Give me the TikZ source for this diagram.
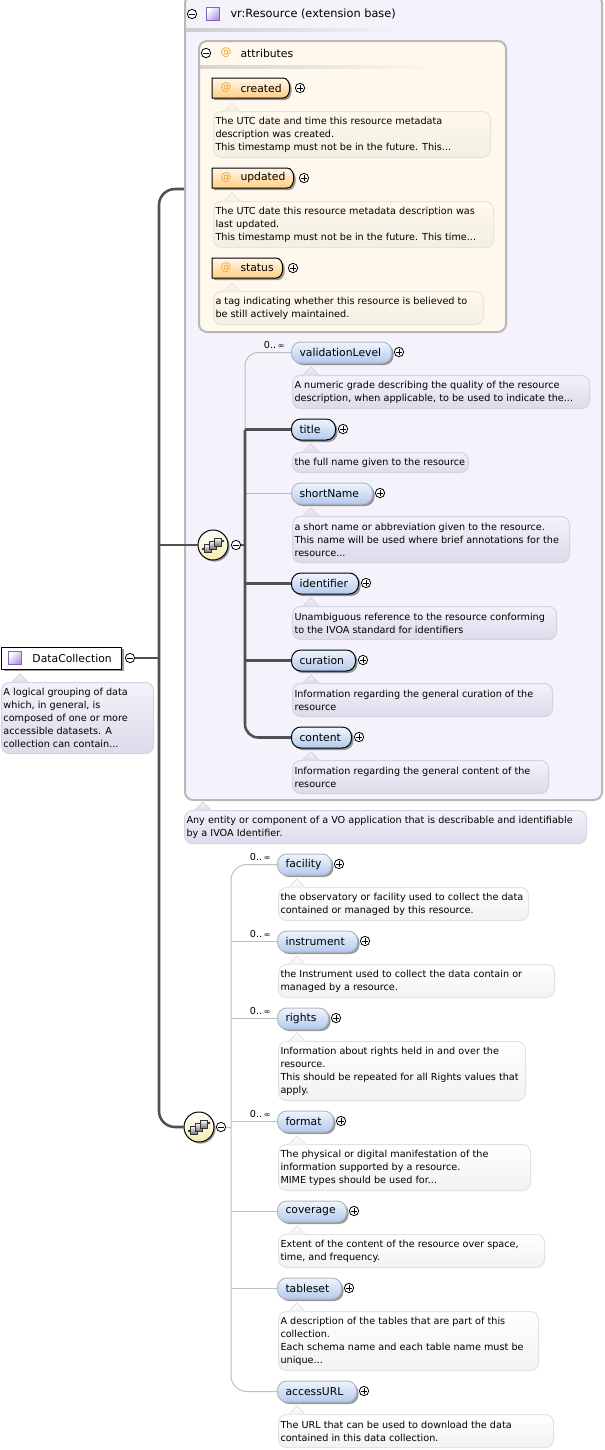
\documentclass[tikz,border=0pt]{standalone}
\usepackage{fontspec}
\setmainfont{DejaVu Sans}
\usetikzlibrary{shadows}
\definecolor{extfill}{RGB}{244,242,250}
\definecolor{attrfill}{RGB}{255,248,236}
\definecolor{framegray}{RGB}{184,184,184}
\definecolor{heavygray}{RGB}{80,80,80}
\definecolor{thingray}{RGB}{190,190,190}
\definecolor{atorange}{RGB}{240,160,30}
\definecolor{notepurpleline}{RGB}{214,210,228}
\definecolor{notepurpleend}{RGB}{222,218,234}
\definecolor{noteattrline}{RGB}{232,228,216}
\definecolor{noteattrend}{RGB}{243,239,227}
\definecolor{notegrayline}{RGB}{226,226,226}
\definecolor{notegrayend}{RGB}{242,242,242}
\definecolor{elemtop}{RGB}{240,245,253}
\definecolor{elemend}{RGB}{178,202,238}
\definecolor{optline}{RGB}{180,184,192}
\definecolor{typeline}{RGB}{130,100,190}
\definecolor{typeend}{RGB}{175,150,220}
\definecolor{seqend}{RGB}{245,236,170}
\definecolor{attrend}{RGB}{255,205,130}
\tikzset{every picture/.style={line width=0.75pt},
	notefont/.style={font=\fontsize{7.25}{9.75}\selectfont},
	namefont/.style={font=\fontsize{8.1}{9.75}\selectfont},
	notebox/.style={rounded corners=6,anchor=north west,inner xsep=1.5pt,inner ysep=0pt,align=flush left,notefont},
	notepurple/.style={notebox,draw=notepurpleline,top color=extfill,bottom color=notepurpleend},
	noteattr/.style={notebox,draw=noteattrline,top color=attrfill,bottom color=noteattrend},
	notegray/.style={notebox,draw=notegrayline,top color=white,bottom color=notegrayend},
	elembox/.style={rounded corners=7,anchor=west,inner xsep=6pt,inner ysep=0pt,align=flush left,namefont,top color=elemtop,bottom color=elemend,
		drop shadow={shadow xshift=1.5pt,shadow yshift=-1.5pt,fill=black,opacity=.4}},
	mustelem/.style={elembox,draw=black},
	optelem/.style={elembox,draw=optline},
	expminus/.style={circle,draw=black,line width=.6pt,fill=white,minimum size=7pt,inner sep=0pt,
		path picture={\draw[line width=.5pt] ([xshift=1.4pt]path picture bounding box.west) -- ([xshift=-1.4pt]path picture bounding box.east);}},
	expplus/.style={expminus,
		path picture={\draw[line width=.5pt] ([xshift=1.6pt]path picture bounding box.west) -- ([xshift=-1.6pt]path picture bounding box.east);
			\draw[line width=.5pt] ([yshift=1.6pt]path picture bounding box.south) -- ([yshift=-1.6pt]path picture bounding box.north);}},
	typeicon/.style={rectangle,draw=typeline,top color=white,bottom color=typeend,shading angle=45,minimum size=9.5pt,inner sep=0pt,
		drop shadow={shadow xshift=.8pt,shadow yshift=-.8pt,fill=black,opacity=.3}},
	heavyline/.style={draw=heavygray,line width=1.9pt},
	thinline/.style={draw=thingray,line width=0.75pt},
	seqball/.style={circle,draw=black,minimum size=22.5pt,inner sep=0pt,top color=white,bottom color=seqend,
		drop shadow={shadow xshift=1.2pt,shadow yshift=-1.2pt,fill=black,opacity=.4}},
	seqcell/.style={draw=black!80,line width=.5pt,top color=white,bottom color=black!55,minimum width=5pt,minimum height=6pt,inner sep=0pt},
	labeltext/.style={anchor=west,inner sep=0pt,namefont},
	cardlabel/.style={anchor=east,inner sep=0pt,notefont}
}
% #1 style, #2 name, #3 left, #4 right, #5 middle, #6 text
\newcommand{\elemnode}[6][optelem]{
	\node[#1,minimum width={(#4-#3)*0.75pt},text width={(#4-#3)*0.75pt-12pt},minimum height=15.75pt] (#2) at (#3,#5+0.5) {#6};
	\node[expplus] (#2Exp) at ({#4+8},#5) {};
}
% #1 style, #2 name, #3 left, #4 top, #5 right, #6 bottom, #7 tip, #8 text
\newcommand{\notenode}[8][notepurple]{
	\node[#1,minimum width={(#5-#3)*0.75pt},text width={(#5-#3)*0.75pt-3pt},minimum height={(#6-#4)*0.75pt}] (#2) at (#3,#4) {#8};
	\path[#1,rounded corners=0,shade,draw=none] (#7-8,#4+0.5) -- (#7,#4-8) -- (#7+8,#4+0.5) -- cycle;
	\draw[#1,rounded corners=0,shade=none,fill=none] (#7-8,#4) -- (#7,#4-8) -- (#7+8,#4);
}
% #1 name, #2 left, #3 right, #4 middle, #5 text
\newcommand{\attrnode}[5]{
	\path[fill=black,opacity=.4] (#2+2,#4-8) -- ({#3-7},#4-8) .. controls (#3+2,#4-8) and (#3+2,#4+12) .. ({#3-7},#4+12) -- (#2+2,#4+12) -- cycle;
	\draw[draw=black,top color=attrfill,bottom color=attrend] (#2,#4-10) -- ({#3-9},#4-10) .. controls (#3,#4-10) and (#3,#4+10) .. ({#3-9},#4+10) -- (#2,#4+10) -- cycle;
	\node[labeltext,text=atorange] (#1At) at (#2+8,#4) {@};
	\node[labeltext] (#1) at (#2+28,#4) {#5};
	\node[expplus] (#1Exp) at ({#3+8},#4) {};
}
% #1 name, #2 x, #3 y
\newcommand{\seqnode}[3]{
	\node[seqball] (#1) at (#2,#3) {};
	\draw[black!80,line width=.7pt] (#2-10,#3+4) -- (#2+10,#3-4);
	\fill[black!80] (#2-10,#3+4) circle (1pt) (#2+10,#3-4) circle (1pt);
	\node[seqcell] (#1a) at (#2-5,#3+3) {};
	\node[seqcell] (#1b) at (#2,#3) {};
	\node[seqcell] (#1c) at (#2+5,#3-3) {};
}

\begin{document}
\begin{tikzpicture}[x=0.75pt,y=0.75pt,yscale=-1,xscale=1]
	\useasboundingbox (0,0) rectangle (604,1450);

	%extension frame
	\node[draw=framegray,line width=1.5pt,fill=extfill,rounded corners=6,anchor=north west,minimum width=312.75pt,minimum height=603.75pt,inner sep=0pt] (extFrame) at (184,-6) {};
	\node[expminus] (extExp) at (192,14) {};
	\node[typeicon] (extIcon) at (213,14) {};
	\node[labeltext,font=\fontsize{8.5}{9.75}\selectfont] (extLabel) at (230,14) {vr:Resource (extension base)};
	\path[left color=framegray!70,right color=extfill] (186,28) rectangle (400,31);

	%attributes
	\node[draw=framegray,line width=1.5pt,fill=attrfill,rounded corners=6,anchor=north west,minimum width=230.25pt,minimum height=218.25pt,inner sep=0pt] (attrFrame) at (198,40) {};
	\node[expminus] (attrExp) at (206,53) {};
	\node[labeltext,text=atorange] (attrAt) at (220,53) {@};
	\node[labeltext] (attrLabel) at (240,53) {attributes};
	\path[left color=framegray!60,right color=attrfill] (200,65) rectangle (440,68);

	\attrnode{created}{212}{292}{88}{created}
	\notenode[noteattr]{createdNote}{213}{111}{490}{157}{232}{The UTC date and time this resource metadata\\description was created.\\This timestamp must not be in the future. This...}
	\attrnode{updated}{212}{296}{178}{updated}
	\notenode[noteattr]{updatedNote}{213}{201}{493}{247}{232}{The UTC date this resource metadata description was\\last updated.\\This timestamp must not be in the future. This time...}
	\attrnode{status}{212}{285}{268}{status}
	\notenode[noteattr]{statusNote}{213}{291}{483}{324}{232}{a tag indicating whether this resource is believed to\\be still actively maintained.}

	%first sequence
	\seqnode{seqA}{213}{545}
	\node[expminus] (seqAExp) at (236,545) {};
	\coordinate (spineA) at (245,545);

	\elemnode{validationLevel}{291}{391}{352}{validationLevel}
	\notenode{validationLevelNote}{292}{375}{589}{408}{311}{A numeric grade describing the quality of the resource\\description, when applicable, to be used to indicate the...}
	\elemnode[mustelem]{title}{291}{335}{429}{title}
	\notenode{titleNote}{292}{452}{468}{472}{311}{the full name given to the resource}
	\elemnode{shortName}{291}{372}{493}{shortName}
	\notenode{shortNameNote}{292}{516}{569}{562}{311}{a short name or abbreviation given to the resource.\\This name will be used where brief annotations for the\\resource...}
	\elemnode[mustelem]{identifier}{291}{358}{583}{identifier}
	\notenode{identifierNote}{292}{606}{556}{639}{311}{Unambiguous reference to the resource conforming\\to the IVOA standard for identifiers}
	\elemnode[mustelem]{curation}{291}{355}{660}{curation}
	\notenode{curationNote}{292}{683}{552}{716}{311}{Information regarding the general curation of the\\resource}
	\elemnode[mustelem]{content}{291}{351}{737}{content}
	\notenode{contentNote}{292}{760}{548}{793}{311}{Information regarding the general content of the\\resource}

	\draw[thinline,rounded corners=10] (validationLevel.west) -| (spineA |- title.west);
	\draw[thinline] (spineA |- shortName.west) -- (shortName.west);
	\draw[heavyline] (title.west) -- (spineA |- title.west);
	\draw[heavyline,rounded corners=10] (spineA |- title.west) |- (content.west);
	\draw[heavyline] (spineA |- identifier.west) -- (identifier.west);
	\draw[heavyline] (spineA |- curation.west) -- (curation.west);
	\draw[heavyline,line width=1pt] (seqAExp) -- (spineA);
	\node[cardlabel] (validationLevelCard) at (285,345) {0..\,{\fontsize{6}{6}\selectfont ∞}};

	\notenode{extNote}{184}{810}{586}{843}{203}{Any entity or component of a VO application that is describable and identifiable\\by a IVOA Identifier.}

	%root element
	\node[draw=black,fill=white,anchor=west,minimum width=90pt,minimum height=16.5pt,inner sep=0pt,
		drop shadow={shadow xshift=1.5pt,shadow yshift=-1.5pt,fill=black,opacity=.4}] (dataCollection) at (1,658) {};
	\node[typeicon] (dataCollectionIcon) at (15,658) {};
	\node[labeltext] (dataCollectionLabel) at (32,658) {DataCollection};
	\node[expminus] (dataCollectionExp) at (130,658) {};
	\notenode{dataCollectionNote}{1}{682}{153}{753}{20}{A logical grouping of data\\which, in general, is\\composed of one or more\\accessible datasets. A\\collection can contain...}

	%second sequence
	\seqnode{seqB}{199}{1127}
	\node[expminus] (seqBExp) at (221,1127) {};
	\coordinate (spineB) at (231,1127);

	\elemnode{facility}{277}{331}{864}{facility}
	\notenode[notegray]{facilityNote}{278}{887}{528}{920}{297}{the observatory or facility used to collect the data\\contained or managed by this resource.}
	\elemnode{instrument}{277}{357}{941}{instrument}
	\notenode[notegray]{instrumentNote}{278}{964}{554}{997}{297}{the Instrument used to collect the data contain or\\managed by a resource.}
	\elemnode{rights}{277}{328}{1018}{rights}
	\notenode[notegray]{rightsNote}{278}{1041}{525}{1100}{297}{Information about rights held in and over the\\resource.\\This should be repeated for all Rights values that\\apply.}
	\elemnode{format}{277}{333}{1121}{format}
	\notenode[notegray]{formatNote}{278}{1144}{530}{1190}{297}{The physical or digital manifestation of the\\information supported by a resource.\\MIME types should be used for...}
	\elemnode{coverage}{277}{346}{1211}{coverage}
	\notenode[notegray]{coverageNote}{278}{1234}{544}{1267}{297}{Extent of the content of the resource over space,\\time, and frequency.}
	\elemnode{tableset}{277}{341}{1288}{tableset}
	\notenode[notegray]{tablesetNote}{278}{1311}{538}{1370}{297}{A description of the tables that are part of this\\collection.\\Each schema name and each table name must be\\unique...}
	\elemnode{accessURL}{277}{356}{1391}{accessURL}
	\notenode[notegray]{accessURLNote}{278}{1414}{553}{1447}{297}{The URL that can be used to download the data\\contained in this data collection.}

	\draw[thinline,rounded corners=12] (facility.west) -| (spineB) |- (accessURL.west);
	\draw[thinline] (spineB |- instrument.west) -- (instrument.west);
	\draw[thinline] (spineB |- rights.west) -- (rights.west);
	\draw[thinline] (spineB |- format.west) -- (format.west);
	\draw[thinline] (spineB |- coverage.west) -- (coverage.west);
	\draw[thinline] (spineB |- tableset.west) -- (tableset.west);
	\draw[thinline] (seqBExp) -- (spineB);
	\node[cardlabel] (facilityCard) at (271,857) {0..\,{\fontsize{6}{6}\selectfont ∞}};
	\node[cardlabel] (instrumentCard) at (271,934) {0..\,{\fontsize{6}{6}\selectfont ∞}};
	\node[cardlabel] (rightsCard) at (271,1011) {0..\,{\fontsize{6}{6}\selectfont ∞}};
	\node[cardlabel] (formatCard) at (271,1114) {0..\,{\fontsize{6}{6}\selectfont ∞}};

	%main connectors
	\coordinate (extIn) at (184,189);
	\coordinate (trunk) at (159,658);
	\draw[heavyline,rounded corners=12] (extIn) -| (trunk) |- (seqB.west);
	\draw[heavyline] (trunk |- seqA.west) -- (seqA.west);
	\draw[heavyline] (dataCollectionExp) -- (trunk);
\end{tikzpicture}
\end{document}
